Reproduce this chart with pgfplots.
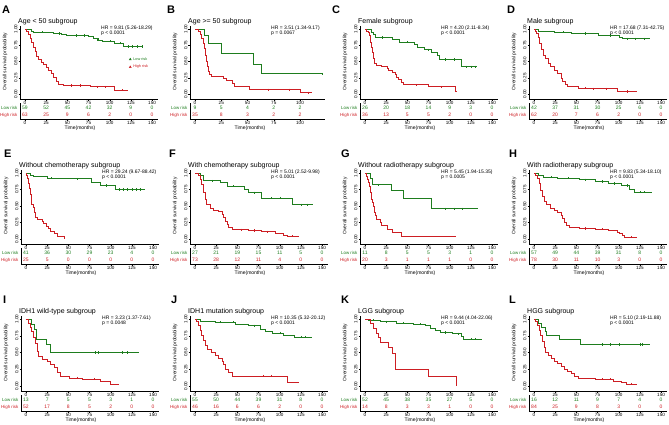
\documentclass[border=0pt]{standalone}
\usepackage{fontspec}
\setmainfont{Liberation Sans}
\usepackage{pgfplots}
\pgfplotsset{compat=1.18}

\definecolor{kmgreen}{RGB}{30,125,30}
\definecolor{kmred}{RGB}{205,30,35}
\newcommand{\fs}[1]{\fontsize{#1}{#1}\selectfont}

% panel geometry: X = x of month 0, Y = y of S=1 (pt, downwards), SY = pt per unit S
\newcommand{\setpanel}[8]{%
  \def\X{#1}\def\Y{#2}\def\SY{#3}\def\LX{#4}%
  \def\LETTER{#5}\def\TITLE{#6}\def\HR{#7}\def\PV{#8}%
  \def\SX{0.847}\def\XL{5.9}\def\XMAX{157}}

\pgfplotsset{
  base/.style={
    anchor=south west, x=\SX pt,
    xmin=-\XL, xmax=\XMAX,
    axis x line*=bottom, axis y line*=left,
    axis line style={-, line width=0.5pt},
    tick align=outside, major tick length=1.5pt,
    tick style={black, line width=0.4pt},
    xtick={0,25,...,150},
    xticklabel style={font=\fs{4.6}, inner sep=0.8pt},
    /pgf/number format/assume math mode=true,
  },
  km/.style={base,
    at={({(\X-\XL*\SX)*1pt},{-(\Y+1.077*\SY)*1pt})},
    y=\SY pt, ymin=-0.077, ymax=1.05,
    ytick={0,0.25,0.5,0.75,1}, yticklabels={0.00,0.25,0.50,0.75,1.00},
    yticklabel style={font=\fs{4.6}, rotate=90, anchor=south, inner sep=0.8pt},
  },
  risk/.style={base,
    at={({(\X-\XL*\SX)*1pt},{-(\Y+1.077*\SY+20)*1pt})},
    y=1pt, ymin=0, ymax=16,
    ytick={4,11}, yticklabels={\textcolor{kmred}{High risk},\textcolor{kmgreen}{Low risk}},
    yticklabel style={font=\fs{4.4}, inner sep=1pt},
    ytick style={draw=none},
    point meta=explicit symbolic, nodes near coords,
  },
  lowc/.style={kmgreen, line width=0.9pt, const plot, mark=none},
  highc/.style={kmred, line width=0.9pt, const plot, mark=none},
  cens/.style={only marks, mark=|, mark size=1.1pt, line width=0.4pt},
  lown/.style={draw=none, mark=none, nodes near coords style={anchor=center, text=kmgreen, font=\fs{5}}},
  highn/.style={draw=none, mark=none, nodes near coords style={anchor=center, text=kmred, font=\fs{5}}},
}

\newcommand{\paneltext}{%
  \node[anchor=base west, font=\bfseries\fs{11}, inner sep=0pt] at ({\LX*1pt},{-(\Y-16)*1pt}) {\LETTER};
  \node[anchor=base west, font=\fs{7}, inner sep=0pt] at ({(\X-7)*1pt},{-(\Y-5.5)*1pt}) {\TITLE};
  \node[anchor=west, font=\fs{5}, inner sep=0pt] at ({(\X+76)*1pt},{-(\Y-0.5)*1pt}) {\HR};
  \node[anchor=west, font=\fs{5}, inner sep=0pt] at ({(\X+76)*1pt},{-(\Y+4.5)*1pt}) {\PV};
  \node[rotate=90, font=\fs{4.9}, inner sep=0pt] at ({(\X-20)*1pt},{-(\Y+0.5*\SY)*1pt}) {Overall survival probability};
  \node[font=\fs{5}, inner sep=0pt] at ({(\X+55)*1pt},{-(\Y+1.077*\SY+29.5)*1pt}) {Time(months)};
}

\begin{document}
\begin{tikzpicture}

% ---------------- A
\setpanel{25}{29}{65}{2}{A}{Age < 50 subgroup}{HR = 9.81 (5.26-18.29)}{p < 0.0001}
\begin{axis}[km, legend style={draw=none, fill=none, font=\fs{3.8}, at={(0.79,0.6)}, anchor=north west, inner sep=0pt, row sep=-0.5pt}, legend cell align=left]
\addplot[lowc, forget plot] coordinates {(0,1)(8,0.97)(10,0.95)(33,0.93)(43,0.92)(49,0.90)(75,0.89)(81,0.85)(87,0.83)(92,0.81)(106,0.785)(116,0.73)(138,0.73)};
\addplot[highc, forget plot] coordinates {(0,1)(2,0.97)(4,0.92)(6,0.86)(8,0.79)(10,0.72)(12,0.65)(14,0.58)(16,0.53)(19,0.49)(22,0.45)(25,0.41)(28,0.37)(31,0.31)(34,0.25)(37,0.19)(40,0.15)(45,0.13)(77,0.11)(106,0.06)(122,0.06)};
\addplot[cens, kmgreen, forget plot] coordinates {(20,0.95)(40,0.93)(60,0.9)(70,0.9)(85,0.83)(100,0.81)(112,0.785)(122,0.73)(127,0.73)(132,0.73)(138,0.73)};
\addplot[cens, kmred, forget plot] coordinates {(55,0.13)(65,0.13)(85,0.11)(95,0.11)(115,0.06)};
\addlegendimage{only marks, mark=triangle*, mark size=1.2pt, kmgreen}
\addlegendimage{only marks, mark=triangle*, mark size=1.2pt, kmred}
\legend{\textcolor{kmgreen}{Low risk},\textcolor{kmred}{High risk}}
\end{axis}
\begin{axis}[risk]
\addplot[lown] coordinates {(0,11)[59] (25,11)[52] (50,11)[45] (75,11)[42] (100,11)[32] (125,11)[9] (150,11)[0]};
\addplot[highn] coordinates {(0,4)[63] (25,4)[25] (50,4)[9] (75,4)[6] (100,4)[2] (125,4)[0] (150,4)[0]};
\end{axis}
\paneltext

% ---------------- B
\setpanel{195}{29}{65}{167}{B}{Age >= 50 subgroup}{HR = 3.51 (1.34-9.17)}{p = 0.0067}
\def\SX{1.05}\def\XL{4.8}\def\XMAX{124}
\begin{axis}[km, xtick={0,25,...,100}]
\addplot[lowc] coordinates {(0,1)(9,0.9)(13,0.78)(25.5,0.62)(55.5,0.45)(63,0.31)(121,0.31)};
\addplot[highc] coordinates {(0,1)(3,0.97)(5,0.91)(6,0.85)(8,0.78)(9,0.7)(10,0.6)(11,0.5)(12,0.42)(13,0.35)(14,0.3)(16,0.27)(27,0.24)(30,0.21)(36,0.17)(38,0.12)(52,0.065)(100,0.02)(111,0.02)};
\addplot[cens, kmgreen] coordinates {(121,0.31)};
\addplot[cens, kmred] coordinates {(70,0.065)(90,0.065)(108,0.02)};
\end{axis}
\begin{axis}[risk, xtick={0,25,...,100}]
\addplot[lown] coordinates {(0,11)[9] (25,11)[5] (50,11)[4] (75,11)[2] (100,11)[2]};
\addplot[highn] coordinates {(0,4)[35] (25,4)[8] (50,4)[3] (75,4)[2] (100,4)[2]};
\end{axis}
\paneltext

% ---------------- C
\setpanel{365}{29}{65}{332}{C}{Female subgroup}{HR = 4.20 (2.11-8.34)}{p < 0.0001}
\begin{axis}[km]
\addplot[lowc] coordinates {(0,1)(8,0.95)(10,0.91)(12,0.87)(32,0.84)(41,0.80)(58,0.76)(62,0.72)(70,0.68)(78,0.64)(85,0.6)(88,0.53)(114,0.42)(132,0.42)};
\addplot[highc] coordinates {(0,1)(2,0.97)(4,0.94)(5,0.9)(6,0.86)(7,0.8)(8,0.72)(9,0.64)(10,0.55)(11,0.47)(14,0.44)(20,0.42)(26,0.4)(28,0.36)(32,0.33)(36,0.3)(37,0.26)(39,0.22)(43,0.18)(45,0.14)(75,0.11)(107,0.04)(108,0.04)};
\addplot[cens, kmgreen] coordinates {(20,0.87)(50,0.8)(75,0.68)(95,0.53)(105,0.53)(120,0.42)(125,0.42)(130,0.42)};
\addplot[cens, kmred] coordinates {(60,0.14)(90,0.11)};
\end{axis}
\begin{axis}[risk]
\addplot[lown] coordinates {(0,11)[26] (25,11)[20] (50,11)[18] (75,11)[14] (100,11)[9] (125,11)[3] (150,11)[0]};
\addplot[highn] coordinates {(0,4)[36] (25,4)[13] (50,4)[5] (75,4)[5] (100,4)[2] (125,4)[0] (150,4)[0]};
\end{axis}
\paneltext

% ---------------- D
\setpanel{534}{29}{65}{507}{D}{Male subgroup}{HR = 17.68 (7.31-42.75)}{p < 0.0001}
\begin{axis}[km]
\addplot[lowc] coordinates {(0,1)(5,0.97)(24,0.95)(44,0.93)(76,0.9)(101,0.87)(105,0.85)(137,0.85)};
\addplot[highc] coordinates {(0,1)(2,0.97)(3,0.93)(5,0.87)(7,0.78)(9,0.68)(11,0.6)(13,0.54)(17,0.47)(20,0.42)(24,0.37)(28,0.31)(32,0.24)(34,0.19)(37,0.14)(40,0.11)(52,0.09)(80,0.08)(99,0.04)(122,0.04)};
\addplot[cens, kmgreen] coordinates {(35,0.95)(60,0.93)(90,0.9)(110,0.85)(120,0.85)(130,0.85)};
\addplot[cens, kmred] coordinates {(60,0.09)(70,0.08)(85,0.08)(110,0.04)};
\end{axis}
\begin{axis}[risk]
\addplot[lown] coordinates {(0,11)[42] (25,11)[37] (50,11)[31] (75,11)[30] (100,11)[25] (125,11)[6] (150,11)[0]};
\addplot[highn] coordinates {(0,4)[62] (25,4)[20] (50,4)[7] (75,4)[6] (100,4)[2] (125,4)[0] (150,4)[0]};
\end{axis}
\paneltext

% ---------------- E
\setpanel{26}{173}{66}{4}{E}{Without chemotherapy subgroup}{HR = 29.24 (9.67-88.42)}{p < 0.0001}
\begin{axis}[km]
\addplot[lowc] coordinates {(0,1)(5,0.97)(9,0.95)(25,0.92)(43,0.91)(77,0.85)(88,0.81)(106,0.75)(140,0.75)};
\addplot[highc] coordinates {(0,1)(1,0.96)(2,0.92)(3,0.84)(4,0.76)(5,0.68)(6,0.6)(7,0.52)(9,0.48)(10,0.4)(11,0.32)(13,0.29)(19,0.27)(21,0.23)(24,0.19)(26,0.16)(29,0.12)(33,0.08)(37,0.04)(45,0)};
\addplot[cens, kmgreen] coordinates {(30,0.92)(60,0.91)(95,0.81)(110,0.75)(115,0.75)(120,0.75)(125,0.75)(130,0.75)(135,0.75)};
\end{axis}
\begin{axis}[risk]
\addplot[lown] coordinates {(0,11)[41] (25,11)[36] (50,11)[30] (75,11)[29] (100,11)[23] (125,11)[4] (150,11)[0]};
\addplot[highn] coordinates {(0,4)[25] (25,4)[5] (50,4)[0] (75,4)[0] (100,4)[0] (125,4)[0] (150,4)[0]};
\end{axis}
\paneltext

% ---------------- F
\setpanel{195}{173}{66}{169}{F}{With chemotherapy subgroup}{HR = 5.01 (2.52-9.98)}{p < 0.0001}
\begin{axis}[km]
\addplot[lowc] coordinates {(0,1)(6,0.96)(10,0.88)(30,0.86)(38,0.8)(58,0.75)(63,0.7)(79,0.62)(115,0.52)(139,0.52)};
\addplot[highc] coordinates {(0,1)(4,0.96)(6,0.9)(8,0.82)(10,0.71)(12,0.6)(14,0.52)(18,0.47)(22,0.44)(28,0.41)(32,0.37)(34,0.32)(36,0.27)(38,0.22)(40,0.18)(44,0.15)(50,0.14)(63,0.13)(79,0.11)(95,0.09)(105,0.06)(109,0.04)(123,0.04)};
\addplot[cens, kmgreen] coordinates {(20,0.88)(45,0.8)(70,0.7)(90,0.62)(100,0.62)(125,0.52)(133,0.52)};
\addplot[cens, kmred] coordinates {(55,0.14)(70,0.13)(85,0.11)(115,0.04)};
\end{axis}
\begin{axis}[risk]
\addplot[lown] coordinates {(0,11)[27] (25,11)[21] (50,11)[19] (75,11)[15] (100,11)[11] (125,11)[5] (150,11)[0]};
\addplot[highn] coordinates {(0,4)[73] (25,4)[28] (50,4)[12] (75,4)[11] (100,4)[4] (125,4)[0] (150,4)[0]};
\end{axis}
\paneltext

% ---------------- G
\setpanel{365}{173}{66}{341}{G}{Without radiotherapy subgroup}{HR = 5.45 (1.94-15.35)}{p = 0.0005}
\begin{axis}[km]
\addplot[lowc] coordinates {(0,1)(6,0.91)(9,0.82)(31,0.73)(45,0.61)(78,0.46)(133,0.46)};
\addplot[highc] coordinates {(0,1)(2,0.95)(3,0.9)(4,0.85)(5,0.8)(6,0.75)(7,0.7)(8,0.6)(9,0.55)(10,0.5)(11,0.4)(12,0.35)(14,0.3)(18,0.25)(20,0.2)(27,0.15)(32,0.1)(43,0.04)(108,0.04)};
\addplot[cens, kmgreen] coordinates {(15,0.82)(95,0.46)(105,0.46)(115,0.46)};
\end{axis}
\begin{axis}[risk]
\addplot[lown] coordinates {(0,11)[11] (25,11)[8] (50,11)[5] (75,11)[5] (100,11)[3] (125,11)[1] (150,11)[0]};
\addplot[highn] coordinates {(0,4)[20] (25,4)[3] (50,4)[1] (75,4)[1] (100,4)[1] (125,4)[0] (150,4)[0]};
\end{axis}
\paneltext

% ---------------- H
\setpanel{534}{173}{66}{509}{H}{With radiotherapy subgroup}{HR = 9.83 (5.34-18.10)}{p < 0.0001}
\begin{axis}[km]
\addplot[lowc] coordinates {(0,1)(5,0.97)(11,0.94)(28,0.92)(54,0.9)(72,0.87)(88,0.84)(103,0.81)(113,0.75)(119,0.71)(139,0.71)};
\addplot[highc] coordinates {(0,1)(2,0.97)(4,0.92)(6,0.84)(8,0.74)(10,0.65)(12,0.57)(15,0.52)(19,0.47)(24,0.43)(28,0.4)(32,0.36)(34,0.31)(36,0.25)(38,0.2)(42,0.17)(54,0.16)(72,0.15)(88,0.13)(98,0.1)(101,0.08)(105,0.05)(107,0.03)(122,0.03)};
\addplot[cens, kmgreen] coordinates {(20,0.94)(40,0.92)(60,0.9)(80,0.87)(95,0.84)(110,0.81)(125,0.71)(130,0.71)};
\addplot[cens, kmred] coordinates {(60,0.16)(80,0.15)(115,0.03)};
\end{axis}
\begin{axis}[risk]
\addplot[lown] coordinates {(0,11)[57] (25,11)[49] (50,11)[44] (75,11)[39] (100,11)[31] (125,11)[8] (150,11)[0]};
\addplot[highn] coordinates {(0,4)[78] (25,4)[30] (50,4)[11] (75,4)[10] (100,4)[3] (125,4)[0] (150,4)[0]};
\end{axis}
\paneltext

% ---------------- I
\setpanel{26}{319}{67}{3}{I}{IDH1 wild-type subgroup}{HR = 3.23 (1.37-7.61)}{p = 0.0048}
\begin{axis}[km]
\addplot[lowc] coordinates {(0,1)(6,0.92)(10,0.85)(12,0.7)(24,0.62)(29,0.5)(134,0.5)};
\addplot[highc] coordinates {(0,1)(3,0.94)(5,0.88)(7,0.82)(9,0.73)(11,0.63)(13,0.52)(15,0.44)(19,0.4)(25,0.36)(29,0.32)(33,0.27)(37,0.2)(41,0.15)(51,0.12)(67,0.1)(88,0.07)(100,0.03)(110,0.03)};
\addplot[cens, kmgreen] coordinates {(82,0.5)(85,0.5)(113,0.5)(119,0.5)};
\addplot[cens, kmred] coordinates {(60,0.12)(80,0.1)};
\end{axis}
\begin{axis}[risk]
\addplot[lown] coordinates {(0,11)[13] (25,11)[7] (50,11)[5] (75,11)[5] (100,11)[3] (125,11)[1] (150,11)[0]};
\addplot[highn] coordinates {(0,4)[52] (25,4)[17] (50,4)[8] (75,4)[5] (100,4)[2] (125,4)[0] (150,4)[0]};
\end{axis}
\paneltext

% ---------------- J
\setpanel{195}{319}{67}{171}{J}{IDH1 mutation subgroup}{HR = 10.35 (5.32-20.12)}{p < 0.0001}
\begin{axis}[km]
\addplot[lowc] coordinates {(0,1)(6,0.96)(24,0.95)(48,0.92)(63,0.9)(77,0.85)(83,0.82)(91,0.79)(105,0.76)(117,0.73)(138,0.73)};
\addplot[highc] coordinates {(0,1)(2,0.96)(4,0.9)(6,0.83)(8,0.76)(10,0.68)(12,0.61)(15,0.55)(20,0.5)(24,0.45)(28,0.41)(32,0.37)(34,0.32)(36,0.25)(40,0.2)(44,0.15)(109,0.05)(123,0.05)};
\addplot[cens, kmgreen] coordinates {(30,0.95)(45,0.95)(70,0.9)(100,0.79)(125,0.73)(130,0.73)};
\addplot[cens, kmred] coordinates {(80,0.15)(90,0.15)};
\end{axis}
\begin{axis}[risk]
\addplot[lown] coordinates {(0,11)[55] (25,11)[50] (50,11)[44] (75,11)[39] (100,11)[31] (125,11)[8] (150,11)[0]};
\addplot[highn] coordinates {(0,4)[46] (25,4)[16] (50,4)[6] (75,4)[6] (100,4)[2] (125,4)[0] (150,4)[0]};
\end{axis}
\paneltext

% ---------------- K
\setpanel{365}{319}{67}{341}{K}{LGG subgroup}{HR = 9.44 (4.04-22.06)}{p < 0.0001}
\begin{axis}[km]
\addplot[lowc] coordinates {(0,1)(4,0.98)(18,0.96)(37,0.94)(57,0.92)(71,0.9)(77,0.86)(83,0.83)(89,0.8)(103,0.78)(114,0.74)(116,0.7)(138,0.7)};
\addplot[highc] coordinates {(0,1)(6,0.93)(10,0.86)(14,0.79)(16,0.72)(18,0.65)(28,0.57)(32,0.49)(36,0.24)(75,0.14)(108,0)};
\addplot[cens, kmgreen] coordinates {(10,0.98)(25,0.96)(45,0.94)(65,0.92)(95,0.8)(110,0.78)(125,0.7)(130,0.7)};
\end{axis}
\begin{axis}[risk]
\addplot[lown] coordinates {(0,11)[52] (25,11)[45] (50,11)[38] (75,11)[35] (100,11)[27] (125,11)[5] (150,11)[0]};
\addplot[highn] coordinates {(0,4)[14] (25,4)[8] (50,4)[3] (75,4)[3] (100,4)[1] (125,4)[0] (150,4)[0]};
\end{axis}
\paneltext

% ---------------- L
\setpanel{534}{319}{67}{509}{L}{HGG subgroup}{HR = 5.10 (2.19-11.88)}{p < 0.0001}
\begin{axis}[km]
\addplot[lowc] coordinates {(0,1)(5,0.94)(9,0.87)(13,0.81)(15,0.75)(30,0.69)(55,0.62)(137,0.62)};
\addplot[highc] coordinates {(0,1)(2,0.96)(4,0.9)(6,0.83)(8,0.75)(10,0.66)(12,0.58)(14,0.5)(17,0.45)(21,0.41)(24,0.37)(28,0.33)(32,0.29)(36,0.25)(40,0.21)(44,0.18)(48,0.14)(52,0.12)(64,0.11)(72,0.1)(94,0.07)(103,0.05)(109,0.03)(122,0.03)};
\addplot[cens, kmgreen] coordinates {(80,0.62)(90,0.62)(100,0.62)(125,0.62)(128,0.62)};
\addplot[cens, kmred] coordinates {(80,0.1)(90,0.1)(115,0.03)};
\end{axis}
\begin{axis}[risk]
\addplot[lown] coordinates {(0,11)[16] (25,11)[12] (50,11)[11] (75,11)[9] (100,11)[7] (125,11)[4] (150,11)[0]};
\addplot[highn] coordinates {(0,4)[84] (25,4)[25] (50,4)[9] (75,4)[8] (100,4)[3] (125,4)[0] (150,4)[0]};
\end{axis}
\paneltext

\pgfresetboundingbox
\useasboundingbox (0,0) rectangle (669pt,-424pt);
\end{tikzpicture}
\end{document}
